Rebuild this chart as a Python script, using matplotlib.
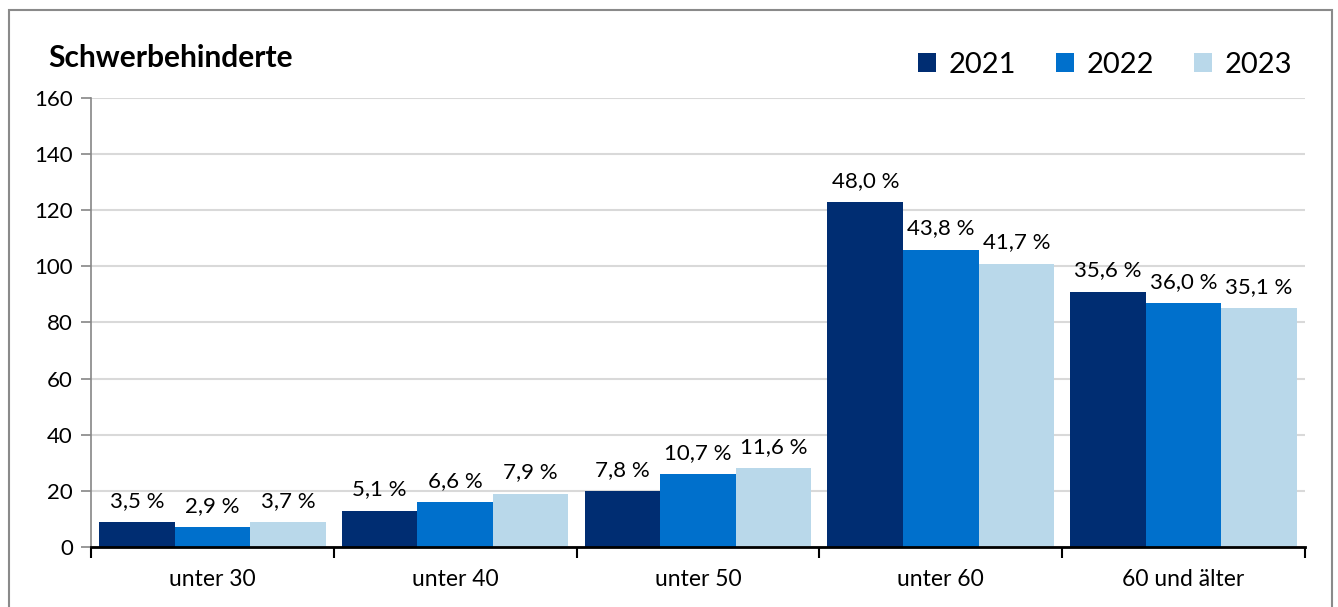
import matplotlib
matplotlib.use('Agg')
from matplotlib import pyplot as plt
from matplotlib.patches import Rectangle
import numpy as np

plt.rcParams['font.family'] = ['Lato', 'DejaVu Sans']

# data
categories = ['unter 30', 'unter 40', 'unter 50', 'unter 60', '60 und älter']
years = ['2021', '2022', '2023']
values_2021 = [9, 13, 20, 123, 91]
values_2022 = [7, 16, 26, 106, 87]
values_2023 = [9, 19, 28, 101, 85]
labels_2021 = ['3,5 %', '5,1 %', '7,8 %', '48,0 %', '35,6 %']
labels_2022 = ['2,9 %', '6,6 %', '10,7 %', '43,8 %', '36,0 %']
labels_2023 = ['3,7 %', '7,9 %', '11,6 %', '41,7 %', '35,1 %']
colors = ['#002D72', '#0070CC', '#B9D8EA']

series = [values_2021, values_2022, values_2023]
labels = [labels_2021, labels_2022, labels_2023]

fig = plt.figure(figsize=(13.38, 6.07), dpi=100)
ax = fig.add_axes([0.068, 0.0988, 0.9073, 0.7398])

x = np.arange(len(categories))
w = 0.311
for i, (vals, labs) in enumerate(zip(series, labels)):
    pos = x + (i - 1) * w
    bars = ax.bar(pos, vals, width=w, color=colors[i], label=years[i], zorder=3)
    for b, lab in zip(bars, labs):
        ax.annotate(lab, (b.get_x() + b.get_width() / 2, b.get_height()),
                    xytext=(0, 8), textcoords='offset points',
                    ha='center', va='bottom', fontsize=16, zorder=4)

ax.set_xlim(-0.5, len(categories) - 0.5)
ax.set_ylim(0, 160)
ax.set_yticks(np.arange(0, 161, 20))
ax.tick_params(axis='y', labelsize=16, length=7, width=1.2, color='#868686', pad=6)
ax.grid(axis='y', color='#d9d9d9', linewidth=1.5, zorder=0)

# category labels between boundary ticks
ax.set_xticks(np.arange(-0.5, len(categories), 1))
ax.set_xticklabels([])
ax.set_xticks(x, minor=True)
ax.set_xticklabels(categories, minor=True, fontsize=16.5)
ax.tick_params(axis='x', which='major', length=8, width=1.5, color='black')
ax.tick_params(axis='x', which='minor', length=0, pad=16)

for s in ['top', 'right']:
    ax.spines[s].set_visible(False)
ax.spines['left'].set_color('#868686')
ax.spines['left'].set_linewidth(1.2)
ax.spines['bottom'].set_color('black')
ax.spines['bottom'].set_linewidth(2)
ax.spines['bottom'].set_zorder(5)

fig.text(0.036, 0.89, 'Schwerbehinderte', fontsize=21.5, fontweight='bold', ha='left', va='baseline')

fig.legend(loc='center right', bbox_to_anchor=(0.966, 0.893), ncol=3, frameon=False,
           fontsize=21, handlelength=0.62, handleheight=0.62, handletextpad=0.45,
           columnspacing=1.35, borderpad=0, borderaxespad=0)

# outer frame
fig.patches.append(Rectangle((0.0067, -0.02), 0.9888, 1.0035, transform=fig.transFigure,
                             fill=False, edgecolor='#8a8a8a', linewidth=1.5))

fig.savefig('out.png', dpi=100)
